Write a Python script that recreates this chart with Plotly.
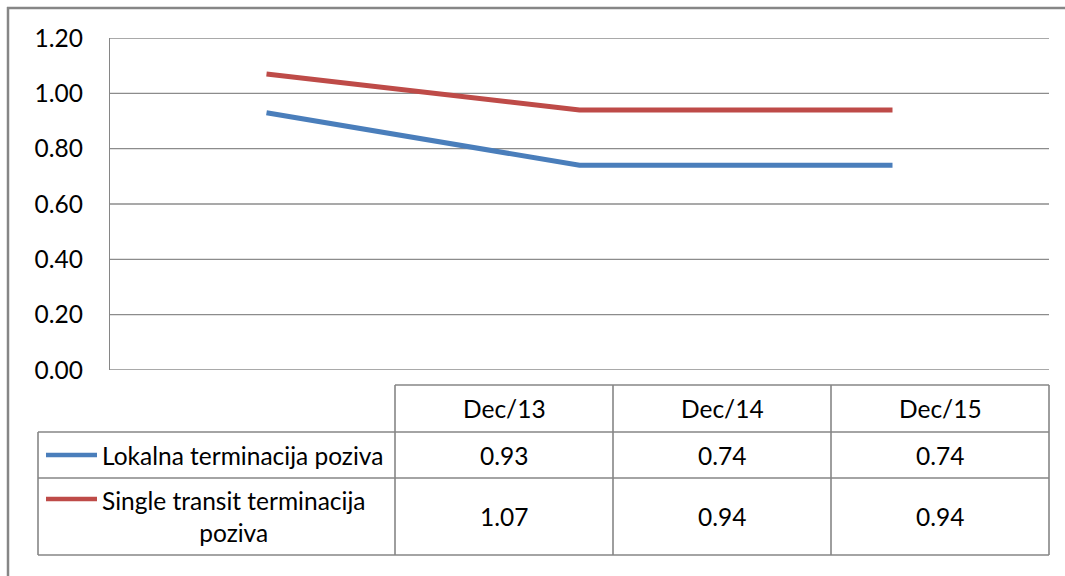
import plotly.graph_objects as go

# Data
periods = ["Dec/13", "Dec/14", "Dec/15"]
series_names = ["Lokalna terminacija poziva", "Single transit terminacija<br>poziva"]
lokalna = [0.93, 0.74, 0.74]
single_transit = [1.07, 0.94, 0.94]
y_ticks = [0.0, 0.2, 0.4, 0.6, 0.8, 1.0, 1.2]

colors = ["#4a7ebb", "#be4b48"]
grid_col = "#8c8c8c"
frame_col = "#868686"
FONT = "Lato"
FS = 24.5

W, H = 1065, 576
# plot area in pixels
PL, PR, PT, PB = 110, 1049, 38, 370


def xp(px):
    return (px - PL) / (PR - PL)


def yp(py):
    return (PB - py) / (PB - PT)


fig = go.Figure()
for name, vals, col in zip(series_names, [lokalna, single_transit], colors):
    fig.add_trace(go.Scatter(
        x=periods, y=vals, mode="lines", name=name.replace("<br>", " "),
        line=dict(color=col, width=5), showlegend=False,
    ))

shapes = []
# outer chart frame: top and left edges (the rest runs off the page)
shapes.append(dict(type="line", xref="paper", yref="paper",
                   x0=xp(7), x1=xp(W), y0=yp(8), y1=yp(8),
                   line=dict(color=frame_col, width=2.5)))
shapes.append(dict(type="line", xref="paper", yref="paper",
                   x0=xp(8), x1=xp(8), y0=yp(7), y1=yp(H),
                   line=dict(color=frame_col, width=2.5)))

# horizontal gridlines, including both ends of the value range
for t in y_ticks:
    shapes.append(dict(type="line", xref="paper", yref="y", x0=0, x1=1, y0=t, y1=t,
                       line=dict(color=grid_col, width=1.3), layer="below"))

# data table grid
tbl_top, hdr_bot, r1_bot, r2_bot = 385, 432, 478, 555
lab_left, col_edges = 38, [395, 613, 831, 1049]
line_style = dict(color=frame_col, width=1.6)


def hline(py, x0, x1):
    shapes.append(dict(type="line", xref="paper", yref="paper",
                       x0=xp(x0), x1=xp(x1), y0=yp(py), y1=yp(py), line=line_style))


def vline(px, y0, y1):
    shapes.append(dict(type="line", xref="paper", yref="paper",
                       x0=xp(px), x1=xp(px), y0=yp(y0), y1=yp(y1), line=line_style))


hline(tbl_top, col_edges[0], col_edges[-1])
for py in (hdr_bot, r1_bot, r2_bot):
    hline(py, lab_left, col_edges[-1])
vline(lab_left, hdr_bot, r2_bot)
for px in col_edges:
    vline(px, tbl_top, r2_bot)

# legend keys inside the table
row_key_y = [455, 499]
for ky, col in zip(row_key_y, colors):
    shapes.append(dict(type="line", xref="paper", yref="paper",
                       x0=xp(46), x1=xp(97), y0=yp(ky), y1=yp(ky),
                       line=dict(color=col, width=4.5)))

annotations = []
txt_font = dict(family=FONT, size=FS, color="#000000")
centers = [(col_edges[i] + col_edges[i + 1]) / 2 for i in range(3)]
row_mid = [(hdr_bot + r1_bot) / 2, (r1_bot + r2_bot) / 2]

for cx, p in zip(centers, periods):
    annotations.append(dict(xref="paper", yref="paper", x=xp(cx), y=yp((tbl_top + hdr_bot) / 2),
                            text=p, showarrow=False, font=txt_font,
                            xanchor="center", yanchor="middle"))
for ry, vals in zip(row_mid, [lokalna, single_transit]):
    for cx, v in zip(centers, vals):
        annotations.append(dict(xref="paper", yref="paper", x=xp(cx), y=yp(ry),
                                text=f"{v:.2f}", showarrow=False, font=txt_font,
                                xanchor="center", yanchor="middle"))
for ry, name in zip(row_mid, series_names):
    annotations.append(dict(xref="paper", yref="paper", x=xp(100), y=yp(ry),
                            text=name, showarrow=False, font=txt_font, align="center",
                            xanchor="left", yanchor="middle"))

fig.update_layout(
    width=W, height=H,
    margin=dict(l=PL, r=W - PR, t=PT, b=H - PB),
    paper_bgcolor="white", plot_bgcolor="white",
    font=dict(family=FONT, size=FS, color="#000000"),
    shapes=shapes, annotations=annotations,
    xaxis=dict(type="category", range=[-0.5, 2.5], showticklabels=False,
               showgrid=False, zeroline=False, showline=False, fixedrange=True),
    yaxis=dict(range=[0, 1.2], tickvals=y_ticks, tickformat=".2f",
               showgrid=False, zeroline=False, showline=True,
               linecolor=frame_col, linewidth=1.3,
               ticks="", ticklabelstandoff=21,
               tickfont=dict(family=FONT, size=FS, color="#000000"), fixedrange=True),
)

fig.write_html("out.html")
